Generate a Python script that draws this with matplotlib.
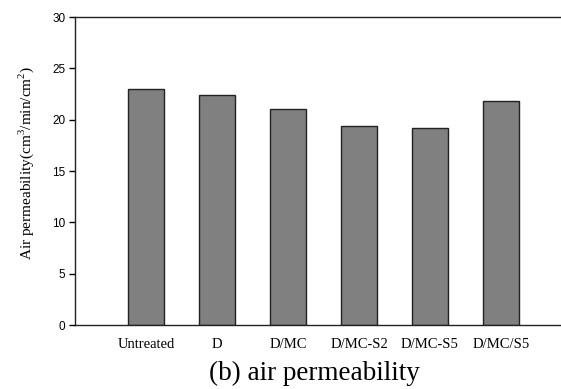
import matplotlib

matplotlib.use("Agg")
import matplotlib.pyplot as plt

categories = ["Untreated", "D", "D/MC", "D/MC-S2", "D/MC-S5", "D/MC/S5"]
permeability = [23.0, 22.45, 21.05, 19.4, 19.2, 21.8]
y_ticks = [0, 5, 10, 15, 20, 25, 30]

plt.rcParams["font.family"] = "Liberation Sans"
plt.rcParams["mathtext.fontset"] = "custom"
plt.rcParams["mathtext.rm"] = "Liberation Serif"

W, H = 561, 389
fig = plt.figure(figsize=(W / 100, H / 100), dpi=100)
# axes box in pixels: left 75, top 17, bottom 325, runs off the right edge
ax = fig.add_axes([75 / W, (H - 325) / H, (W - 75) / W, (325 - 17) / H])

x = list(range(1, len(categories) + 1))
ax.bar(x, permeability, width=0.51, color="#808080", edgecolor="#222222", linewidth=1.0)

ax.set_xlim(0, (W - 75) / 71)
ax.set_ylim(0, 30)
ax.set_yticks(y_ticks)
ax.set_yticklabels([str(t) for t in y_ticks], fontsize=8.5, family="Liberation Sans")
ax.tick_params(axis="y", direction="out", length=4, width=1, pad=3)
ax.set_xticks(x)
ax.set_xticklabels(categories, fontsize=10.5, family="Liberation Serif")
ax.tick_params(axis="x", length=0, pad=9)

for side in ["left", "top", "bottom"]:
    ax.spines[side].set_linewidth(1.0)
    ax.spines[side].set_color("#222222")
ax.spines["right"].set_visible(False)

ax.set_ylabel("Air permeability(cm$^3$/min/cm$^2$)", fontsize=11, family="Liberation Serif")
ax.yaxis.set_label_coords(-(75 - 36) / (W - 75), (325 - 163) / (325 - 17))

fig.text(314 / W, 1 - 373 / H, "(b) air permeability", fontsize=19.5, family="Liberation Serif",
         ha="center", va="center")

fig.savefig("out.png", dpi=100)
